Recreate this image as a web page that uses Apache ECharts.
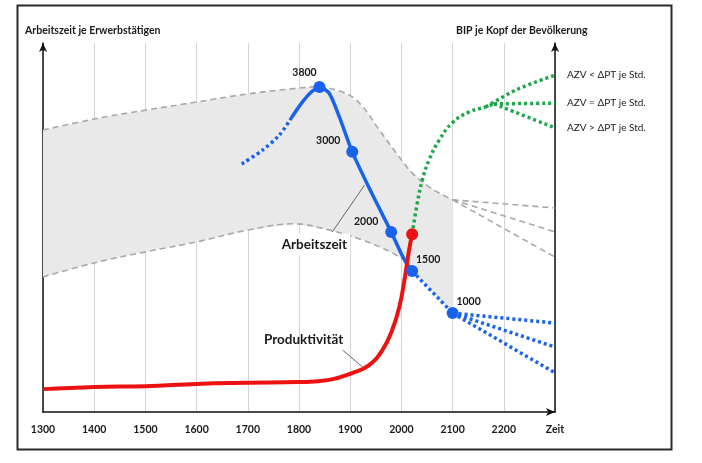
<!DOCTYPE html>
<html>
<head>
<meta charset="utf-8">
<script src="https://cdn.jsdelivr.net/npm/echarts/dist/echarts.min.js"></script>
<style>
html,body{margin:0;padding:0;background:#fff;}
#chart{width:702px;height:463px;}
</style>
</head>
<body>
<div id="chart"></div>
<script>
// ---------- data ----------
const xAxisEndLabel = 'Zeit';
const leftAxisTitle = 'Arbeitszeit je Erwerbstätigen';
const rightAxisTitle = 'BIP je Kopf der Bevölkerung';

const bandUpperYears = [1300,1400,1500,1600,1700,1800,1830,1885,1918,1957,1990,2021,2054,2088,2100];
const bandUpperVals  = [76.4,79.4,81.8,84.0,86.2,87.8,88.1,86.7,83.7,76.4,70.2,64.8,61.0,58.3,57.5];
const bandLowerYears = [1300,1400,1500,1600,1700,1790,1859,1924,1971,2006];
const bandLowerVals  = [36.6,40.4,43.4,46.1,49.3,51.0,49.3,46.6,43.9,41.2];
const grayBranchEndYear = 2300;
const grayBranchEndVals = [55.3,48.8,42.0];

const bluePastYears  = [1688,1729,1762,1785];
const bluePastVals   = [67.2,71.0,75.1,79.7];
const blueSolidYears = [1785,1805,1824,1840,1859,1879,1904,1941,1980,2006,2021];
const blueSolidVals  = [79.7,83.7,86.7,88.1,86.4,79.9,70.5,59.6,48.8,41.2,38.2];
const blueFutureYears = [2021,2100];
const blueFutureVals  = [38.2,26.8];
const blueBranchEndVals = [24.1,17.6,10.6];

const blueMarkYears  = [1840,1904,1980,2021,2100];
const blueMarkVals   = [88.1,70.5,48.8,38.2,26.8];
const blueMarkLabels = ['3800','3000','2000','1500','1000'];

const redYears = [1300,1400,1500,1600,1700,1800,1859,1905,1937,1963,1982,1996,2006,2015,2021];
const redVals  = [6.2,6.8,7.0,7.6,7.9,8.1,8.7,10.6,12.7,16.8,22.2,28.5,35.8,43.9,48.2];

const greenYears = [2021,2031,2041,2054,2074,2099,2132,2165,2181];
const greenVals  = [48.2,56.6,62.9,68.3,73.7,78.3,81.3,82.7,83.5];
const greenBranchYears = [[2165,2224,2300],[2181,2300],[2181,2300]];
const greenBranchVals  = [[82.7,87.3,91.3],[83.5,83.7],[83.5,77.0]];
const greenBranchLabels = ['AZV < ΔPT je Std.','AZV = ΔPT je Std.','AZV > ΔPT je Std.'];

const annoArbeitszeitText = 'Arbeitszeit';
const annoArbeitszeitAt = [1830,45.3];
const annoArbeitszeitLeader = [[1865,48.8],[1928,61.5]];
const annoProdText = 'Produktivität';
const annoProdAt = [1809,19.5];
const annoProdLeader = [[1885,16.8],[1924,12.2]];

// ---------- helpers ----------
const zip = (xs, ys) => xs.map((x,i)=>[x, ys[i]]);
const FONT = 'Lato';
const TXT = '#1a1a1a';
const BLUE = '#1862ee';
const RED = '#ee1111';
const GREEN = '#1ea84a';
const GRAY = '#a8a8a8';

const bandEdgeUpper = zip(bandUpperYears, bandUpperVals);
const bandEdgeLower = zip(bandLowerYears, bandLowerVals)
  .concat(zip(blueFutureYears, blueFutureVals));

function lineSeries(data, color, width, type, extra){
  return Object.assign({
    type:'line', data:data, symbol:'none', silent:true, smooth:false,
    lineStyle:{color:color, width:width, type:type, cap:'butt'},
    z:3
  }, extra||{});
}

const series = [];
series.push({
  type:'custom', silent:true, z:1,
  data:[[1300,50]],
  renderItem:function(params, api){
    const up = bandEdgeUpper.map(p=>api.coord(p));
    const lo = bandEdgeLower.map(p=>api.coord(p));
    return {type:'polygon', shape:{points:up.concat(lo.slice().reverse())}, style:{fill:'#e9e9e9', stroke:null}};
  }
});
series.push(lineSeries(bandEdgeUpper, GRAY, 1.6, [6,4], {smooth:0.4}));
series.push(lineSeries(zip(bandLowerYears,bandLowerVals), GRAY, 1.6, [6,4], {smooth:0.4}));
grayBranchEndVals.forEach(v=>{
  series.push(lineSeries([[bandUpperYears[bandUpperYears.length-1], bandUpperVals[bandUpperVals.length-1]],[grayBranchEndYear, v]], GRAY, 1.6, [6,4]));
});
series.push(lineSeries(zip(bluePastYears,bluePastVals), BLUE, 3.5, [3,3], {smooth:0.3}));
series.push(lineSeries(zip(blueSolidYears,blueSolidVals), BLUE, 3.5, 'solid', {smooth:0.25, z:4}));
series.push(lineSeries(zip(blueFutureYears,blueFutureVals), BLUE, 3.5, [3,3]));
blueBranchEndVals.forEach(v=>{
  series.push(lineSeries([[blueFutureYears[1], blueFutureVals[1]],[grayBranchEndYear, v]], BLUE, 3.5, [3,3]));
});
series.push(lineSeries(zip(redYears,redVals), RED, 4, 'solid', {smooth:0.45, z:5}));
series.push(lineSeries(zip(greenYears,greenVals), GREEN, 3.5, [3,3], {smooth:0.45}));
greenBranchYears.forEach((ys,i)=>{
  series.push(lineSeries(zip(ys, greenBranchVals[i]), GREEN, 3.5, [3,3], {
    smooth:0.3,
    endLabel:{show:true, formatter:greenBranchLabels[i], color:TXT, fontFamily:FONT, fontSize:10, distance:12}
  }));
});
series.push(lineSeries(annoArbeitszeitLeader, '#666', 1, 'solid', {z:2}));
series.push(lineSeries(annoProdLeader, '#666', 1, 'solid', {z:2}));
const blueLabelOffsets = [[-15,-14],[-24,-11],[-25,-10],[16,-11],[16,-11]];
series.push({
  type:'scatter', silent:true, z:6, symbolSize:12,
  itemStyle:{color:BLUE, opacity:1},
  data: blueMarkYears.map((y,i)=>({
    value:[y, blueMarkVals[i]],
    label:{show:true, formatter:blueMarkLabels[i], position:'inside', offset:blueLabelOffsets[i],
      color:TXT, fontFamily:FONT, fontWeight:'bold', fontSize:10.5, textBorderWidth:0, textBorderColor:'transparent'}
  }))
});
series.push({
  type:'scatter', silent:true, z:6, symbolSize:12,
  itemStyle:{color:RED, opacity:1},
  data:[[redYears[redYears.length-1], redVals[redVals.length-1]]]
});

const chart = echarts.init(document.getElementById('chart'), null, {renderer:'canvas'});
const baseGraphic = [
  {type:'rect', left:15, top:3, shape:{width:654, height:444},
    style:{fill:null, stroke:'#2a2a2a', lineWidth:2}, silent:true, z:100},
  {type:'text', left:25, top:25, style:{text:leftAxisTitle, fill:TXT, font:'bold 10.5px Lato'}, silent:true},
  {type:'text', left:456, top:25, style:{text:rightAxisTitle, fill:TXT, font:'bold 10.5px Lato'}, silent:true}
];
chart.setOption({
  animation:false,
  backgroundColor:'#fff',
  grid:{left:43, right:147, top:43, bottom:51, containLabel:false},
  xAxis:{
    type:'value', min:1300, max:2300, interval:100,
    axisLine:{show:true, lineStyle:{color:'#111', width:1.5}, symbol:['none','arrow'], symbolSize:[6,9], symbolOffset:[0,0]},
    axisTick:{show:false},
    axisLabel:{show:true, margin:12, color:TXT, fontFamily:FONT, fontWeight:'bold', fontSize:10.5,
      showMinLabel:true, showMaxLabel:true,
      formatter:function(v){ return v===2300 ? xAxisEndLabel : String(v); }},
    splitLine:{show:true, lineStyle:{color:'#d4d4d4', width:1}}
  },
  yAxis:[
    {type:'value', min:0, max:100, position:'left',
      axisLine:{show:true, onZero:false, lineStyle:{color:'#111', width:1.5}, symbol:['none','arrow'], symbolSize:[6,9]},
      axisTick:{show:false}, axisLabel:{show:false}, splitLine:{show:false}},
    {type:'value', min:0, max:100, position:'right',
      axisLine:{show:true, onZero:false, lineStyle:{color:'#111', width:1.5}, symbol:['none','arrow'], symbolSize:[6,9]},
      axisTick:{show:false}, axisLabel:{show:false}, splitLine:{show:false}}
  ],
  graphic:baseGraphic,
  series:series
});
// annotation texts placed through the chart's own coordinate conversion
const pA = chart.convertToPixel({gridIndex:0}, annoArbeitszeitAt);
const pP = chart.convertToPixel({gridIndex:0}, annoProdAt);
chart.setOption({
  graphic: baseGraphic.concat([
    {type:'text', x:pA[0], y:pA[1], z:50, silent:true,
      style:{text:annoArbeitszeitText, fill:TXT, font:'bold 13.5px Lato', align:'center', verticalAlign:'middle',
        backgroundColor:'#fff', padding:[4,3,4,3]}},
    {type:'text', x:pP[0], y:pP[1], z:50, silent:true,
      style:{text:annoProdText, fill:TXT, font:'bold 13.5px Lato', align:'center', verticalAlign:'middle'}}
  ])
});
</script>
</body>
</html>
